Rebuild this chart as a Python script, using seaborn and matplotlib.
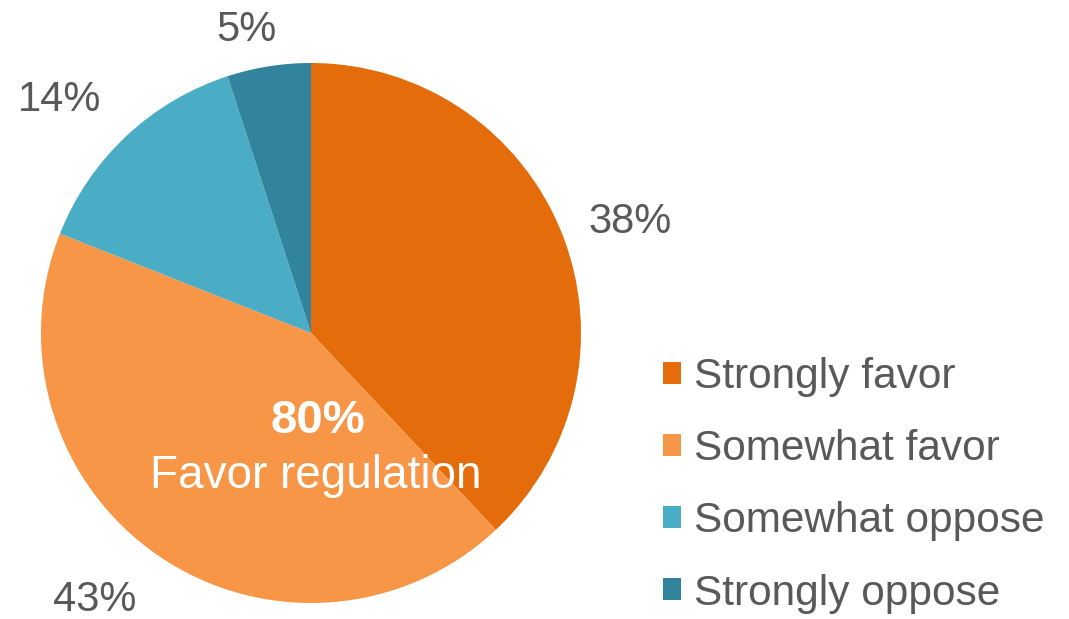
import matplotlib
matplotlib.use("Agg")
import matplotlib.pyplot as plt
import matplotlib.patches as mpatches
import seaborn as sns

categories = ["Strongly favor", "Somewhat favor", "Somewhat oppose", "Strongly oppose"]
values = [38, 43, 14, 5]
pct_labels = ["38%", "43%", "14%", "5%"]
center_value = "80%"
center_text = "Favor regulation"

colors = sns.color_palette(["#E46C0A", "#F79646", "#4BACC6", "#31849B"])

sns.set_theme(style="white")
plt.rcParams["font.family"] = ["Liberation Sans", "DejaVu Sans"]
text_color = "#595959"

W, H = 1069, 619
fig = plt.figure(figsize=(W / 100, H / 100), dpi=100)
cx, cy, r = 311, 333, 270
ax = fig.add_axes([(cx - r) / W, (H - cy - r) / H, 2 * r / W, 2 * r / H])

wedges, _ = ax.pie(values, colors=colors, startangle=90, counterclock=False,
                   radius=1, wedgeprops=dict(linewidth=0))
ax.set_xlim(-1, 1)
ax.set_ylim(-1, 1)
ax.set_aspect("equal")
ax.axis("off")

# label positions (pixel coords of label centers)
label_px = [(630, 222), (95, 600), (60, 100), (246, 30)]
for lab, (px, py) in zip(pct_labels, label_px):
    ax.text((px - cx) / r, (cy - py) / r, lab, ha="center", va="center",
            fontsize=30, color=text_color)

ax.text((318 - cx) / r, (cy - 421) / r, center_value, ha="center", va="center",
        fontsize=34, color="white", fontweight="bold")
ax.text((316 - cx) / r, (cy - 476) / r, center_text, ha="center", va="center",
        fontsize=33, color="white")

handles = [mpatches.Patch(facecolor=c, edgecolor="none") for c in colors]
leg = fig.legend(handles, categories, loc="upper left",
                 bbox_to_anchor=(663 / W, (H - 357) / H),
                 frameon=False, fontsize=30.5, labelcolor=text_color,
                 handlelength=0.42, handleheight=0.42, handletextpad=0.3,
                 labelspacing=0.76, borderpad=0, borderaxespad=0)

fig.savefig("out.png", dpi=100)
